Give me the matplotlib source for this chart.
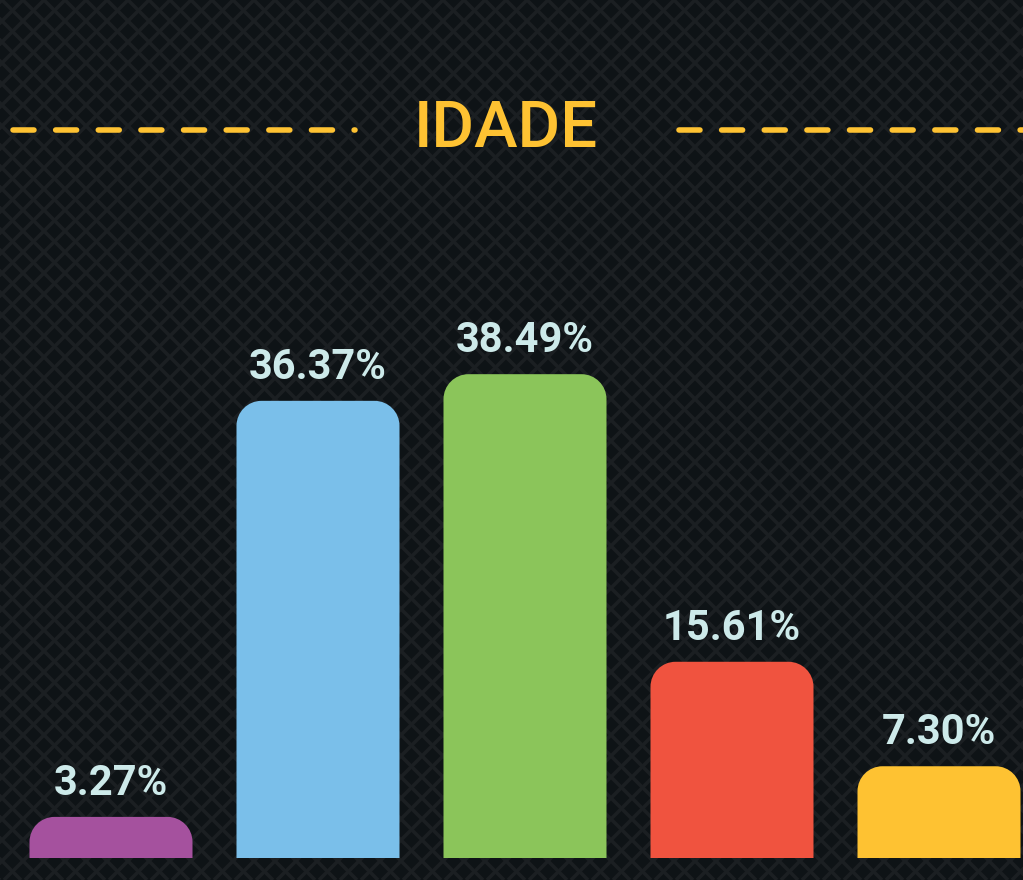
import matplotlib
matplotlib.use("Agg")
import matplotlib.pyplot as plt
import numpy as np
from matplotlib.path import Path
from matplotlib.patches import PathPatch
from matplotlib.collections import LineCollection

plt.rcParams['lines.scale_dashes'] = False

# ---- data ----
categories = ["Faixa 1", "Faixa 2", "Faixa 3", "Faixa 4", "Faixa 5"]
values = [3.27, 36.37, 38.49, 15.61, 7.30]
labels = ["3.27%", "36.37%", "38.49%", "15.61%", "7.30%"]
colors = ["#a5519e", "#7abfea", "#8bc55a", "#f0533f", "#fec232"]
title = "IDADE"

W, H = 1023, 880
fig = plt.figure(figsize=(W / 100, H / 100), dpi=100)
fig.patch.set_facecolor("#0e1316")

# background crosshatch pattern (pixel coords)
bg = fig.add_axes([0, 0, 1, 1], zorder=0)
bg.set_xlim(0, W)
bg.set_ylim(H, 0)
bg.axis("off")
bg.set_facecolor("#0e1316")
P = 21.0
segs = []
for k in np.arange(-H, W + H, P):
    segs.append([(k, 0), (k + H, H)])
    segs.append([(k, 0), (k - H, H)])
bg.add_collection(LineCollection(segs, colors="#1b1f22", linewidths=2.6))

# dashed title rule
dash_kw = dict(color="#fec232", lw=4.0, solid_capstyle="round", dash_capstyle="round",
               dashes=(15.1, 15.6))
bg.plot([12.5, 355], [130, 130], **dash_kw)
bg.plot([678.5, 1040], [130, 130], **dash_kw)
bg.text(506, 129, title, ha="center", va="center", color="#fec232",
        fontsize=47, fontfamily="Roboto", fontweight="medium")

# main axes
ax = fig.add_axes([0, 0, 1, 1], zorder=1)
ax.patch.set_alpha(0)
ax.axis("off")
pxx = 1 / 207.0
pxy = 1 / 12.57
ax.set_xlim(-111 * pxx, (W - 111) * pxx)
ax.set_ylim(-22 * pxy, 858 * pxy)

bw = 163 * pxx
r_px = 25
K = 0.5523
for i, (v, c, lab) in enumerate(zip(values, colors, labels)):
    x0, x1 = i - bw / 2, i + bw / 2
    rp = min(r_px, v / pxy)
    rx, ry = rp * pxx, rp * pxy
    verts = [
        (x0, 0), (x0, v - ry),
        (x0, v - ry + K * ry), (x0 + rx - K * rx, v), (x0 + rx, v),
        (x1 - rx, v),
        (x1 - rx + K * rx, v), (x1, v - ry + K * ry), (x1, v - ry),
        (x1, 0), (x0, 0),
    ]
    codes = [Path.MOVETO, Path.LINETO,
             Path.CURVE4, Path.CURVE4, Path.CURVE4,
             Path.LINETO,
             Path.CURVE4, Path.CURVE4, Path.CURVE4,
             Path.LINETO, Path.CLOSEPOLY]
    ax.add_patch(PathPatch(Path(verts, codes), facecolor=c, edgecolor="none"))
    ax.text(i, v + 22 * pxy, lab, ha="center", va="baseline", color="#cdeaea",
            fontsize=30, fontfamily="Roboto", fontweight=600)

fig.savefig("out.png", dpi=100, facecolor=fig.get_facecolor())
